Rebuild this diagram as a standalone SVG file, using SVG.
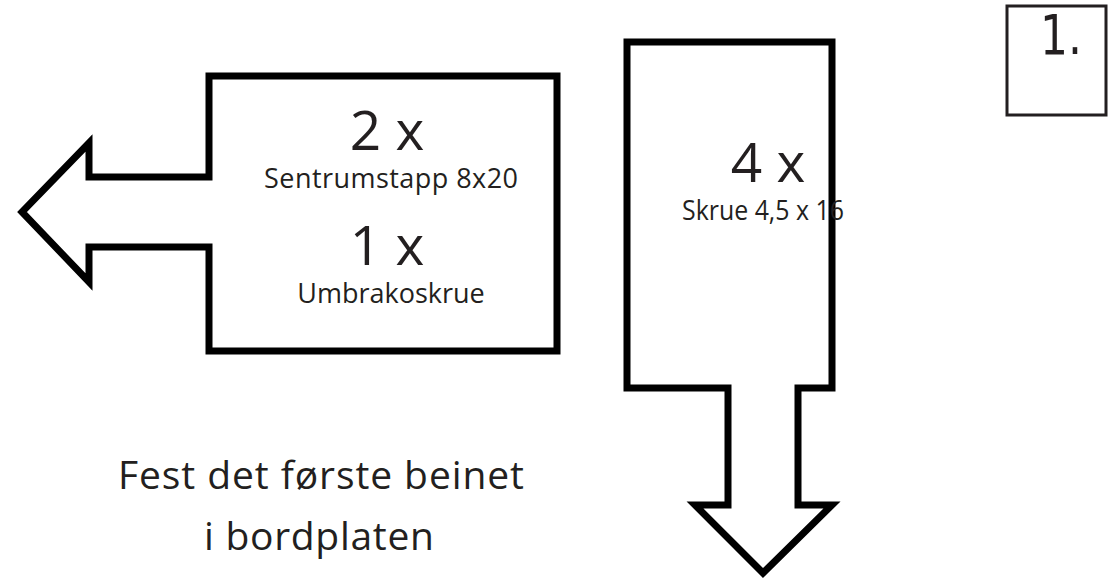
<svg xmlns="http://www.w3.org/2000/svg" width="1113" height="579" viewBox="0 0 1113 579">
<style>
.shape{fill:#fff;stroke:#000;stroke-width:7;stroke-linejoin:miter}
.t{font-family:"Open Sans","Noto Sans",sans-serif;fill:#231f20;text-anchor:middle}
.big{font-size:55px}
.small{font-size:27px}
.cap{font-size:39px}
</style>
<rect width="1113" height="579" fill="#fff"/>
<g id="connectors"/>
<g id="node-left">
<path class="shape" d="M209 76 L557 76 L557 351 L209 351 L209 247 L89 247 L89 282 L22 212 L89 143 L89 177 L209 177 Z"/>
<text class="t big" x="387" y="150">2 x</text>
<text class="t small" x="391" y="188" textLength="254" lengthAdjust="spacing">Sentrumstapp 8x20</text>
<text class="t big" x="387" y="265">1 x</text>
<text class="t small" x="391" y="303">Umbrakoskrue</text>
</g>
<g id="node-right">
<path class="shape" d="M627 42 L832 42 L832 388 L798 388 L798 505 L832 505 L763 573 L695 505 L728 505 L728 388 L627 388 Z"/>
<text class="t big" x="768" y="182">4 x</text>
<text class="t small" x="763" y="220" textLength="162" lengthAdjust="spacingAndGlyphs">Skrue 4,5 x 16</text>
</g>
<g id="node-step">
<rect x="1007" y="6" width="99" height="109" fill="#fff" stroke="#231f20" stroke-width="3"/>
<text x="1061" y="54" font-family="'DejaVu Sans',sans-serif" font-size="55" fill="#231f20" text-anchor="middle" textLength="42" lengthAdjust="spacingAndGlyphs">1.</text>
</g>
<g id="caption">
<text class="t cap" x="321" y="489" textLength="406" lengthAdjust="spacing">Fest det første beinet</text>
<text class="t cap" x="319" y="550" textLength="230" lengthAdjust="spacing">i bordplaten</text>
</g>
</svg>
